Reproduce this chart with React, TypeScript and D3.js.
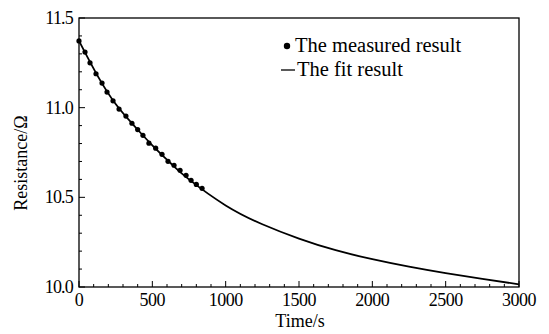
import React from 'react';
import * as d3 from 'd3';

// measured points (time in s, resistance in ohm)
const measuredTime = [0, 41, 75, 116, 157, 191, 232, 273, 320, 361, 400, 436, 477, 523, 566, 607, 648, 689, 730, 764, 800, 839];
const measuredRes = [11.372, 11.31, 11.25, 11.189, 11.137, 11.087, 11.038, 10.992, 10.953, 10.913, 10.878, 10.846, 10.802, 10.774, 10.74, 10.701, 10.679, 10.651, 10.623, 10.595, 10.572, 10.55];

// fit curve
const fitTime = [0, 125, 250, 375, 500, 625, 750, 1000, 1250, 1500, 1750, 2000, 2250, 2500, 2750, 3000];
const fitRes = [11.372, 11.18, 11.02, 10.9, 10.79, 10.69, 10.6, 10.455, 10.35, 10.27, 10.205, 10.155, 10.113, 10.077, 10.045, 10.015];

const xTicks = [0, 500, 1000, 1500, 2000, 2500, 3000];
const yTicks = [10.0, 10.5, 11.0, 11.5];

const W = 549;
const H = 334;
const margin = { left: 79, right: 30, top: 18, bottom: 47 };
const font = "'Times New Roman', 'Liberation Serif', 'DejaVu Serif', serif";

export default function App() {
  const x = d3.scaleLinear().domain([0, 3000]).range([margin.left, W - margin.right]);
  const y = d3.scaleLinear().domain([10, 11.5]).range([H - margin.bottom, margin.top]);

  const fitLine = d3.line<number>()
    .x((_, i) => x(fitTime[i]))
    .y(d => y(d))
    .curve(d3.curveNatural);

  const xMinor = d3.range(0, 3001, 100);
  const yMinor = d3.range(10, 11.501, 0.1);
  const txt = { fontFamily: font, fontSize: 18 };

  return (
    <svg width={W} height={H} style={{ position: 'absolute', left: 0, top: 0, background: '#fff' }}>
      <rect x={x(0)} y={y(11.5)} width={x(3000) - x(0)} height={y(10) - y(11.5)}
        fill="none" stroke="#000" strokeWidth={1.3} />

      {xMinor.map(t => (
        <line key={'xm' + t} x1={x(t)} x2={x(t)} y1={y(10)} y2={y(10) - (t % 500 === 0 ? 6 : 3)}
          stroke="#000" strokeWidth={1} />
      ))}
      {yMinor.map((v, i) => (
        <line key={'ym' + i} x1={x(0)} x2={x(0) + (i % 5 === 0 ? 6 : 3)} y1={y(v)} y2={y(v)}
          stroke="#000" strokeWidth={1} />
      ))}

      {xTicks.map(t => (
        <text key={'xt' + t} x={x(t)} y={y(10) + 19} textAnchor="middle"
          style={{ ...txt, letterSpacing: '-0.5px' }}>{t}</text>
      ))}
      {yTicks.map(v => (
        <text key={'yt' + v} x={x(0) - 6} y={y(v) + 6} textAnchor="end"
          style={{ ...txt, letterSpacing: '-0.8px' }}>{v.toFixed(1)}</text>
      ))}

      <text x={300} y={327} textAnchor="middle" style={txt}>Time/s</text>
      <text transform={`translate(27,163) rotate(-90)`} textAnchor="middle" style={txt}>Resistance/Ω</text>

      <path d={fitLine(fitRes) || ''} fill="none" stroke="#000" strokeWidth={1.8} />
      {measuredRes.map((r, i) => (
        <circle key={'m' + i} cx={x(measuredTime[i])} cy={y(r)} r={2.6} fill="#000" />
      ))}

      <circle cx={287} cy={46} r={3.2} fill="#000" />
      <text x={295} y={52} style={{ ...txt, fontSize: 20.5 }}>The measured result</text>
      <line x1={281} x2={295} y1={70} y2={70} stroke="#000" strokeWidth={1.3} />
      <text x={297} y={76} style={{ ...txt, fontSize: 20.5 }}>The fit result</text>
    </svg>
  );
}
